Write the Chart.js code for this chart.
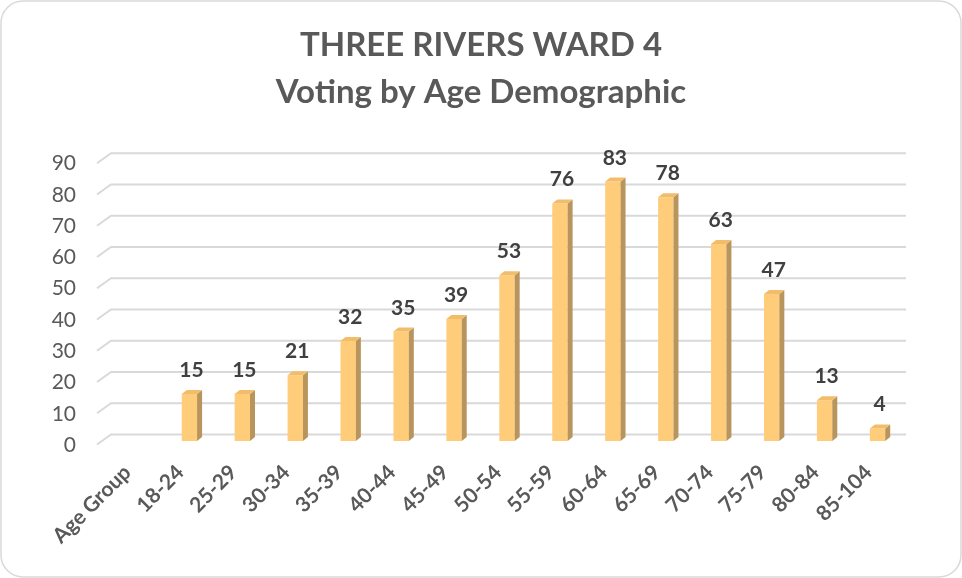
<!DOCTYPE html>
<html>
<head>
<meta charset="utf-8">
<title>Three Rivers Ward 4</title>
<script src="https://cdn.jsdelivr.net/npm/chart.js@4/dist/chart.umd.min.js"></script>
<style>
  html, body { margin: 0; padding: 0; background: #fff; }
  #wrap { width: 962px; height: 578px; position: relative; }
</style>
</head>
<body>
<div id="wrap"><canvas id="grafico"></canvas></div>
<script>
// datos
const categorias = ['Age Group', '18-24', '25-29', '30-34', '35-39', '40-44', '45-49', '50-54',
    '55-59', '60-64', '65-69', '70-74', '75-79', '80-84', '85-104'];
const votantes = [null, 15, 15, 21, 32, 35, 39, 53, 76, 83, 78, 63, 47, 13, 4];
const titulo = ['THREE RIVERS WARD 4', 'Voting by Age Demographic'];

const FUENTE = 'Lato, "Open Sans", sans-serif';
const GRIS = '#595959';

// marco redondeado y fondo
const marco = {
    id: 'marco',
    beforeDraw(chart) {
        const c = chart.ctx;
        c.save();
        c.fillStyle = '#fff';
        c.fillRect(0, 0, chart.width, chart.height);
        c.strokeStyle = '#d9d9d9';
        c.lineWidth = 1.5;
        c.beginPath();
        c.roundRect(1, 1, chart.width - 2, chart.height - 2, 22);
        c.stroke();
        c.restore();
    }
};

// lineas de la cuadricula con la pared del fondo en perspectiva
const cuadricula = {
    id: 'cuadricula',
    beforeDatasetsDraw(chart) {
        const c = chart.ctx;
        const y = chart.scales.y;
        const area = chart.chartArea;
        c.save();
        c.strokeStyle = '#d9d9d9';
        c.lineWidth = 2;
        y.ticks.forEach(t => {
            const p = y.getPixelForValue(t.value);
            c.beginPath();
            c.moveTo(area.left - 13, p + 3.5);
            c.lineTo(area.left + 1, p - 6.5);
            c.lineTo(area.right + 2, p - 6.5);
            c.stroke();
        });
        c.restore();
    }
};

// caras laterales y superiores + etiquetas de valor
const barras3d = {
    id: 'barras3d',
    afterDatasetsDraw(chart) {
        const c = chart.ctx;
        const meta = chart.getDatasetMeta(0);
        const dx = 5, dy = 4;
        c.save();
        meta.data.forEach((bar, i) => {
            const v = votantes[i];
            if (v === null) return;
            const { x, y, base, width } = bar.getProps(['x', 'y', 'base', 'width'], true);
            const l = x - width / 2, r = x + width / 2;
            // lado
            c.fillStyle = '#b8955c';
            c.beginPath();
            c.moveTo(r, y);
            c.lineTo(r + dx, y - dy);
            c.lineTo(r + dx, base - dy);
            c.lineTo(r, base);
            c.closePath();
            c.fill();
            // tapa
            c.fillStyle = '#f2bd6b';
            c.beginPath();
            c.moveTo(l, y);
            c.lineTo(l + dx, y - dy);
            c.lineTo(r + dx, y - dy);
            c.lineTo(r, y);
            c.closePath();
            c.fill();
            // valor
            c.fillStyle = '#404040';
            c.font = 'bold 21px ' + FUENTE;
            c.textAlign = 'center';
            c.textBaseline = 'alphabetic';
            c.fillText(String(v), x + 2, y - 17);
        });
        c.restore();
    }
};

new Chart(document.getElementById('grafico'), {
    type: 'bar',
    data: {
        labels: categorias,
        datasets: [{
            data: votantes,
            backgroundColor: '#ffcc7a',
            borderWidth: 0,
            barPercentage: 0.29,
            categoryPercentage: 1
        }]
    },
    options: {
        responsive: true,
        maintainAspectRatio: false,
        animation: false,
        layout: { padding: 0 },
        plugins: {
            legend: { display: false },
            tooltip: { enabled: false },
            title: {
                display: true,
                text: titulo,
                color: GRIS,
                font: { family: FUENTE, size: 33, weight: 'bold', lineHeight: 1.45 },
                padding: { top: 21, bottom: 43 }
            }
        },
        scales: {
            x: {
                grid: { display: false, drawTicks: false },
                border: { display: false },
                ticks: {
                    autoSkip: false,
                    minRotation: 45,
                    maxRotation: 45,
                    padding: 19,
                    labelOffset: -9,
                    color: GRIS,
                    font: { family: FUENTE, size: 21, weight: 'bold' }
                },
                afterFit(s) { s.height = 137; }
            },
            y: {
                min: 0,
                max: 90,
                grid: { display: false, drawTicks: false },
                border: { display: false },
                ticks: {
                    stepSize: 10,
                    padding: 34,
                    labelOffset: 4,
                    color: GRIS,
                    font: { family: FUENTE, size: 21 }
                },
                afterFit(s) { s.width = 110; }
            },
            // margen derecho vacio para que el titulo quede centrado en todo el ancho
            margen: {
                position: 'right',
                grid: { display: false, drawTicks: false },
                border: { display: false },
                ticks: { display: false },
                afterFit(s) { s.width = 58; }
            }
        }
    },
    plugins: [marco, cuadricula, barras3d]
});
</script>
</body>
</html>
